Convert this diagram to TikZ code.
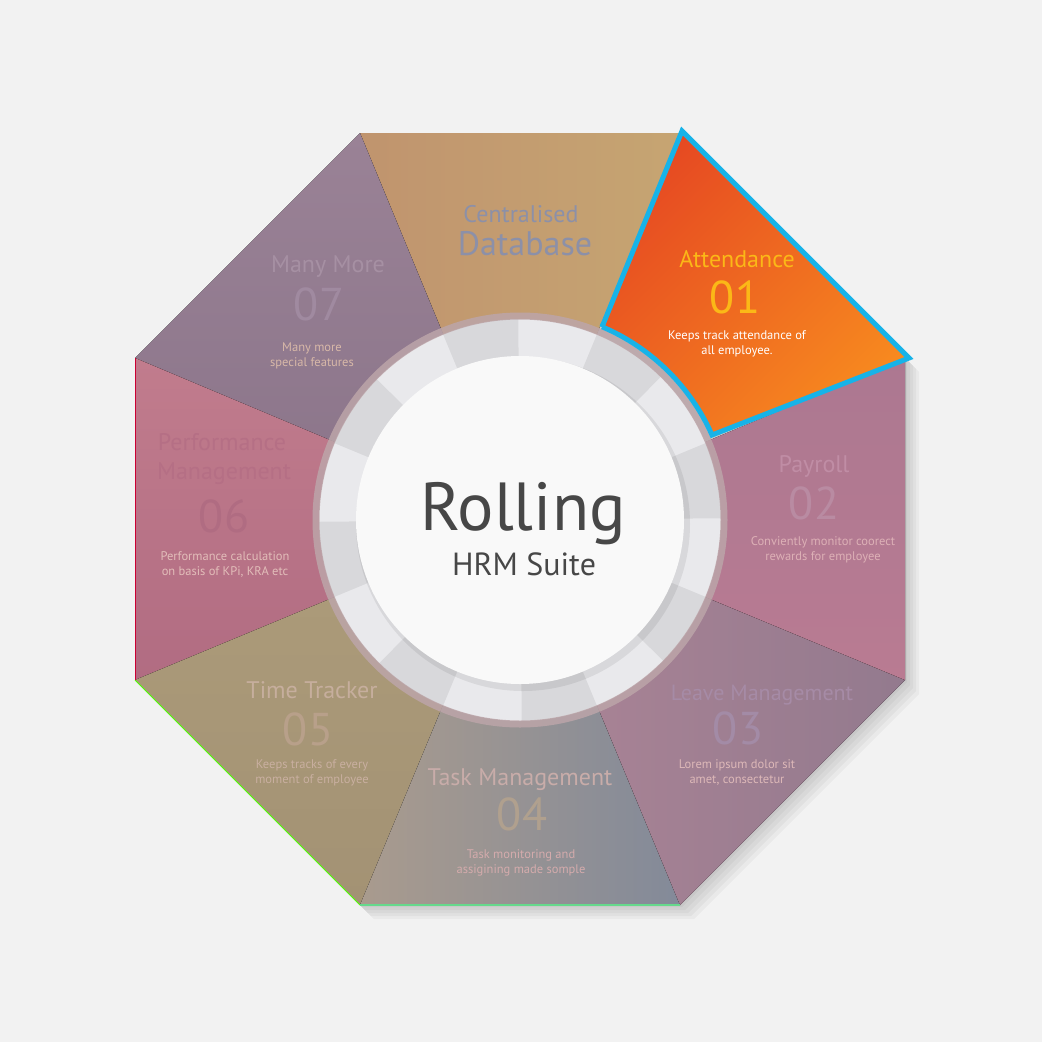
\documentclass[tikz,border=0pt]{standalone}
\usepackage{fontspec}
\setmainfont{PT Sans}
\usetikzlibrary{positioning}
\definecolor{fond}{HTML}{F2F2F2}
\definecolor{baseA}{HTML}{C0946E}
\definecolor{baseB}{HTML}{C6A572}
\definecolor{plusA}{HTML}{9A8296}
\definecolor{plusB}{HTML}{8A7489}
\definecolor{perfA}{HTML}{C17C8D}
\definecolor{perfB}{HTML}{B16C82}
\definecolor{tempsA}{HTML}{AD9C7A}
\definecolor{tempsB}{HTML}{A39274}
\definecolor{tacheA}{HTML}{A99B8E}
\definecolor{tacheB}{HTML}{838A99}
\definecolor{congeA}{HTML}{AC8496}
\definecolor{congeB}{HTML}{937A8E}
\definecolor{paieA}{HTML}{AC7891}
\definecolor{paieB}{HTML}{B97B92}
\definecolor{presA}{HTML}{E64A22}
\definecolor{presB}{HTML}{F7891F}
\definecolor{cyan1}{HTML}{17B3E8}
\definecolor{jaune1}{HTML}{FBB817}
\definecolor{anneau}{HTML}{E9E9EC}
\definecolor{bord}{HTML}{BCA5A9}
\definecolor{centre}{HTML}{F9F9F9}
\definecolor{gristexte}{HTML}{474747}
\tikzset{
  titre/.style={font=\fontsize{24}{24}\selectfont, inner sep=0pt, anchor=base},
  numero/.style={font=\fontsize{46}{46}\selectfont, inner sep=0pt, anchor=base},
  detail/.style={font=\fontsize{12.5}{14.5}\selectfont, align=center, inner sep=0pt, anchor=base},
}

\begin{document}
\begin{tikzpicture}[x=1pt,y=-1pt]
    % Fond
    \fill[fond] (0,0) rectangle (1042,1042);
    \useasboundingbox (0,0) rectangle (1042,1042);
    % Définir les sommets
    \coordinate (O) at (520,520);
    \coordinate (A) at (360,133);
    \coordinate (B) at (680,133);
    \coordinate (C) at (905,358);
    \coordinate (D) at (905,680);
    \coordinate (E) at (680,905);
    \coordinate (F) at (360,905);
    \coordinate (G) at (135,680);
    \coordinate (H) at (135,358);
    % Ombre
    \foreach \d in {2,5,8,11,14}
      \fill[black,opacity=0.035] ([shift={(\d,\d)}]A) -- ([shift={(\d,\d)}]B) -- ([shift={(\d,\d)}]C) -- ([shift={(\d,\d)}]D) -- ([shift={(\d,\d)}]E) -- ([shift={(\d,\d)}]F) -- ([shift={(\d,\d)}]G) -- ([shift={(\d,\d)}]H) -- cycle;
    % Secteurs
    \fill[left color=baseA, right color=baseB] (O) -- (A) -- (B) -- cycle;
    \fill[top color=plusA, bottom color=plusB] (O) -- (H) -- (A) -- cycle;
    \fill[top color=perfA, bottom color=perfB] (O) -- (G) -- (H) -- cycle;
    \fill[top color=tempsA, bottom color=tempsB] (O) -- (F) -- (G) -- cycle;
    \fill[left color=tacheA, right color=tacheB] (O) -- (E) -- (F) -- cycle;
    \fill[left color=congeA, right color=congeB] (O) -- (D) -- (E) -- cycle;
    \fill[top color=paieA, bottom color=paieB] (O) -- (C) -- (D) -- cycle;
    % Liserés
    \draw[green!70!yellow, line width=1pt] (F) -- (G);
    \draw[teal!50!green!60, line width=1.5pt] (E) -- (F);
    \draw[purple!80!red, line width=0.8pt] (G) -- (H);
    % Anneau
    \fill[anneau] (O) circle[radius=201];
    \foreach \a in {22.5,67.5,...,337.5}
      \fill[black,opacity=0.07] (O) -- ++(-\a:201) arc[start angle=-\a, end angle=-\a+22, radius=201] -- cycle;
    \draw[bord, line width=7pt, opacity=0.85] (O) circle[radius=204];
    \fill[black,opacity=0.07] ([shift={(3,4)}]O) circle[radius=167];
    \fill[centre] (O) circle[radius=164];
    % Attendance
    \fill[top color=presA, bottom color=presB, shading angle=45] (602,327) -- (682,131) -- (909,358) -- (712,435) arc[start angle=-23.9, end angle=-67, radius=210] -- cycle;
    \draw[cyan1, line width=5pt, line join=miter] (602,327) -- (682,131) -- (909,358) -- (712,435) arc[start angle=-23.9, end angle=-67, radius=210] -- cycle;
    % Textes
    \node[font=\fontsize{68}{68}\selectfont, text=gristexte, inner sep=0pt, anchor=base] (roll) at (523,530) {Rolling};
    \node[font=\fontsize{32}{32}\selectfont, text=gristexte, inner sep=0pt, anchor=base] (suite) at (524,575) {HRM Suite};

    \node[titre, text=jaune1] (t01) at (737,267) {Attendance};
    \node[numero, text=jaune1] (n01) at (735,313) {01};
    \node[detail, text=white] (d01) at (737,354) {Keeps track attendance of\\all employee.};

    \node[titre, text={rgb,255:red,192;green,141;blue,165}] (t02) at (814,472) {Payroll};
    \node[numero, text={rgb,255:red,185;green,139;blue,162}] (n02) at (814,519) {02};
    \node[detail, text={rgb,255:red,221;green,176;blue,182}] (d02) at (823,560) {Conviently monitor coorect\\rewards for employee};

    \node[titre, font=\fontsize{22}{22}\selectfont, text={rgb,255:red,166;green,139;blue,166}] (t03) at (762,700) {Leave Management};
    \node[numero, text={rgb,255:red,163;green,139;blue,166}] (n03) at (738,744) {03};
    \node[detail, text={rgb,255:red,221;green,184;blue,184}] (d03) at (737,783) {Lorem ipsum dolor sit\\amet, consectetur};

    \node[titre, text={rgb,255:red,200;green,172;blue,169}] (t04) at (520,785) {Task Management};
    \node[numero, text={rgb,255:red,176;green,160;blue,142}] (n04) at (522,830) {04};
    \node[detail, text={rgb,255:red,212;green,171;blue,172}] (d04) at (521,873) {Task monitoring and\\assigining made somple};

    \node[titre, text={rgb,255:red,198;green,174;blue,157}] (t05) at (312,698) {Time Tracker};
    \node[numero, text={rgb,255:red,184;green,160;blue,138}] (n05) at (308,745) {05};
    \node[detail, text={rgb,255:red,201;green,175;blue,160}] (d05) at (312,783) {Keeps tracks of every\\moment of employee};

    \node[titre, text={rgb,255:red,181;green,111;blue,133}] (t06) at (222,450) {Performance};
    \node[titre, text={rgb,255:red,181;green,111;blue,133}] (t06b) at (224,479) {Management};
    \node[numero, text={rgb,255:red,176;green,108;blue,130}] (n06) at (224,532) {06};
    \node[detail, text={rgb,255:red,226;green,189;blue,185}] (d06) at (225,575) {Performance calculation\\on basis of KPi, KRA etc};

    \node[titre, text={rgb,255:red,166;green,144;blue,163}] (t07) at (328,272) {Many More};
    \node[numero, text={rgb,255:red,160;green,138;blue,160}] (n07) at (319,320) {07};
    \node[detail, text={rgb,255:red,216;green,184;blue,168}] (d07) at (312,366) {Many more\\special features};

    \node[titre, text={rgb,255:red,140;green,144;blue,168}] (t00) at (521,222) {Centralised};
    \node[titre, font=\fontsize{34}{34}\selectfont, text={rgb,255:red,140;green,144;blue,168}] (t00b) at (525,255) {Database};
\end{tikzpicture}
\end{document}
